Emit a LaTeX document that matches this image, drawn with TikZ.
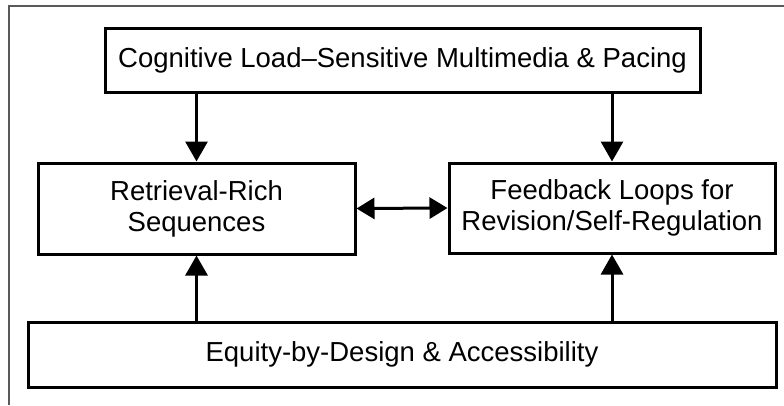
\documentclass[tikz,border=0pt]{standalone}
\usepackage{fontspec}
\setmainfont{Liberation Sans}
\usetikzlibrary{arrows.meta}

\tikzset{
  box/.style={draw=black, line width=3pt, fill=white, inner sep=0pt,
    align=center, font=\fontsize{27.5}{31}\selectfont},
  arr/.style={draw=black, line width=3pt,
    -{Triangle[length=20pt, width=22pt]}},
  biarr/.style={draw=black, line width=3pt,
    {Triangle[length=18pt, width=21pt]}-{Triangle[length=18pt, width=21pt]}},
  frame/.style={draw=black!65, line width=1.5pt}
}

\begin{document}
\begin{tikzpicture}[x=1pt, y=-1pt]
  \useasboundingbox (0,0) rectangle (784,405);

  % partial outer frame
  \coordinate (fa) at (9,405);
  \coordinate (fb) at (9,6);
  \coordinate (fc) at (784,6);
  \draw[frame] (fa) -- (fb) -- (fc);

  % boxes
  \node[box, minimum width=595pt, minimum height=64pt] (top) at (402.5,60)
    {Cognitive Load–Sensitive Multimedia \& Pacing};
  \node[box, minimum width=317pt, minimum height=91pt] (left) at (196.5,208.5)
    {Retrieval-Rich\\Sequences};
  \node[box, minimum width=326pt, minimum height=90pt] (right) at (612,208)
    {Feedback Loops for\\Revision/Self-Regulation};
  \node[box, minimum width=748pt, minimum height=65pt] (bottom) at (402,354.5)
    {Equity-by-Design \& Accessibility};

  % connectors
  \draw[arr] (left.north |- top.south) -- (left.north);
  \draw[arr] (right.north |- top.south) -- (right.north);
  \draw[arr] (left.south |- bottom.north) -- (left.south);
  \draw[arr] (right.south |- bottom.north) -- (right.south);
  \draw[biarr] (left.east) -- (right.west);
\end{tikzpicture}
\end{document}
